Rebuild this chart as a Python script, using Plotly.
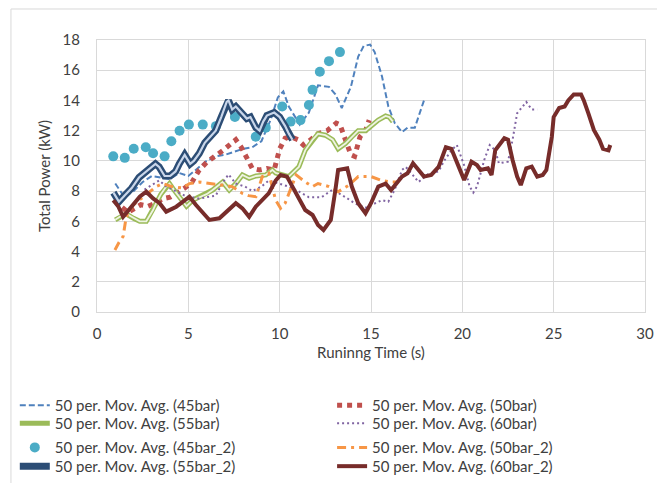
import plotly.graph_objects as go

# 50-point moving averages of total power (kW) vs running time (s)
t_45 = [1.0, 1.5, 2.0, 2.5, 3.0, 3.5, 4.0, 4.5, 5.0, 5.5, 6.0, 6.5, 7.0, 7.5, 8.0, 8.5, 9.0, 9.5,
        9.9, 10.2, 10.5, 11.1, 11.6, 12.1, 12.7, 13.05, 13.4, 13.9, 14.3, 14.6, 14.95, 15.2, 15.6,
        15.95, 16.3, 16.7, 17.0, 17.4, 17.7, 17.9]
p_45 = [8.5, 7.6, 8.0, 8.6, 9.0, 8.9, 8.8, 9.2, 9.0, 9.5, 10.0, 10.3, 10.4, 10.6, 10.8, 10.9, 11.3, 12.7,
        14.2, 14.6, 13.6, 12.4, 13.2, 15.0, 14.9, 14.4, 13.5, 14.9, 16.9, 17.6, 17.7, 17.2, 15.6,
        13.6, 12.5, 11.9, 12.2, 12.2, 13.2, 14.0]

t_50 = [1.0, 1.3, 1.7, 2.0, 2.4, 2.8, 3.2, 3.6, 4.0, 4.4, 4.8, 5.2, 5.6, 6.0, 6.5, 6.9, 7.3, 7.6,
        7.9, 8.2, 8.5, 8.9, 9.3, 9.7, 10.0, 10.3, 10.6, 11.0, 11.3, 11.7, 12.1, 12.6, 13.1, 13.3,
        13.6, 13.9, 14.1, 14.4, 14.7, 14.9]
p_50 = [7.4, 7.0, 6.6, 6.8, 7.1, 7.0, 7.2, 7.5, 7.6, 7.9, 8.2, 8.6, 9.4, 9.9, 10.3, 10.7, 11.1, 11.4,
        10.9, 10.2, 9.5, 9.4, 9.5, 9.4, 10.8, 11.5, 11.6, 11.4, 11.05, 11.4, 11.8, 12.0, 12.5, 12.4,
        11.4, 10.4, 10.3, 11.6, 12.0, 12.7]

t_55 = [1.0, 1.25, 1.6, 2.0, 2.34, 2.7, 3.07, 3.24, 3.5, 3.79, 3.97, 4.2, 4.52, 4.9, 5.24, 5.6, 6.0,
        6.33, 6.88, 7.24, 7.6, 7.96, 8.33, 8.7, 9.24, 9.6, 9.78, 10.5, 10.7, 11.05, 11.4, 11.8, 12.1,
        12.5, 12.9, 13.2, 13.6, 13.95, 14.3, 14.7, 15.0, 15.4, 15.8, 16.0, 16.2]
p_55 = [6.1, 6.3, 6.5, 6.2, 6.0, 6.0, 6.75, 7.2, 7.8, 8.3, 8.5, 8.1, 7.6, 7.0, 7.4, 7.6, 7.8,
        8.07, 8.6, 8.07, 8.5, 9.07, 8.85, 9.0, 9.07, 9.4, 9.2, 8.96, 9.2, 9.6, 10.7, 11.4, 11.8,
        11.7, 11.4, 10.8, 11.15, 11.6, 12.0, 12.0, 12.3, 12.7, 12.97, 12.9, 12.6]

t_60 = [2.6, 3.0, 3.4, 3.8, 4.3, 4.8, 5.2, 5.6, 6.0, 6.5, 6.9, 7.2, 7.6, 8.1, 8.5, 9.0, 9.4, 9.9,
        10.5, 11.0, 11.6, 12.3, 12.9, 13.6, 14.1, 14.7, 15.2, 15.6, 15.95, 16.3, 16.7, 16.9, 17.2,
        17.6, 18.1, 18.7, 19.0, 19.4, 19.7, 20.1, 20.4, 20.6, 20.8, 21.2, 21.5, 21.8, 22.0, 22.5,
        22.75, 23.0, 23.5, 23.8, 24.1]
p_60 = [8.1, 8.4, 8.7, 8.3, 8.0, 7.7, 7.6, 7.5, 7.6, 7.7, 8.6, 9.1, 8.5, 8.3, 8.0, 8.3, 8.7, 8.5,
        8.3, 8.0, 7.6, 7.6, 8.1, 7.6, 7.2, 6.9, 7.2, 7.4, 7.3, 8.1, 9.4, 9.6, 9.2,
        8.6, 9.1, 9.3, 10.0, 10.7, 11.05, 9.7, 8.3, 7.9, 8.3, 10.06, 11.05, 10.7, 9.84, 9.95,
        11.4, 13.15, 13.9, 13.4, 13.4]

t_45_2 = [0.89, 1.52, 2.01, 2.67, 3.07, 3.70, 4.07, 4.52, 5.03, 5.79, 6.51, 7.55, 8.69, 9.24,
          10.14, 10.6, 11.14, 11.6, 11.8, 12.2, 12.7, 13.3]
p_45_2 = [10.3, 10.2, 10.8, 10.9, 10.5, 10.3, 11.3, 12.0, 12.4, 12.4, 12.3, 12.9, 11.6, 12.2,
          13.6, 12.6, 12.7, 13.7, 14.7, 15.9, 16.6, 17.2]

t_50_2 = [0.98, 1.2, 1.43, 1.6, 1.98, 2.6, 3.24, 3.6, 4.1, 4.7, 5.06, 5.6, 6.2, 6.88, 7.4, 7.96,
          8.3, 8.7, 9.05, 9.4, 9.78, 10.05, 10.3, 10.9, 11.4, 11.8, 12.1, 12.7, 13.2, 13.8, 14.3,
          15.0, 15.6, 16.1, 16.5]
p_50_2 = [4.1, 4.6, 5.0, 6.3, 7.08, 7.7, 8.3, 8.5, 8.3, 8.2, 8.5, 8.6, 8.5, 8.4, 8.3, 7.85,
          7.7, 7.63, 8.96, 9.18, 7.4, 6.86, 7.2, 9.07, 8.6, 8.3, 8.5, 8.3, 7.96, 8.4, 8.96,
          8.96, 8.7, 8.6, 8.6]

t_55_2 = [0.9, 1.2, 1.5, 1.9, 2.3, 2.8, 3.2, 3.4, 3.7, 4.0, 4.3, 4.5, 4.8, 5.1, 5.3, 5.6, 5.9,
          6.2, 6.5, 6.8, 7.1, 7.2, 7.4, 7.6, 7.9, 8.2, 8.4, 8.7, 8.9, 9.1, 9.3, 9.7, 10.0, 10.3,
          10.5, 10.7]
p_55_2 = [7.9, 7.3, 7.7, 8.2, 8.9, 9.4, 9.8, 9.6, 9.0, 9.0, 9.3, 9.8, 10.4, 9.8, 10.0, 10.5, 11.2,
          11.6, 12.0, 12.9, 13.9, 14.0, 13.4, 13.6, 13.2, 12.8, 12.9, 12.2, 12.0, 12.6, 13.0, 13.2,
          12.9, 12.3, 11.8, 11.4]

t_60_2 = [0.89, 1.16, 1.43, 1.8, 2.34, 2.7, 3.07, 3.43, 3.79, 4.34, 4.79, 5.06, 5.42, 5.79, 6.15,
          6.7, 7.24, 7.6, 7.96, 8.33, 8.69, 9.05, 9.4, 9.78, 10.05, 10.4, 10.7, 11.05, 11.4, 11.8,
          12.1, 12.4, 12.8, 13.05, 13.2, 13.7, 13.95, 14.3, 14.7, 15.0, 15.4, 15.8, 16.1, 16.7,
          17.0, 17.3, 17.6, 17.9, 18.3, 18.7, 19.1, 19.4, 19.8, 20.1, 20.5, 20.8, 21.0, 21.4, 21.6,
          21.8, 22.3, 22.5, 22.75, 23.0, 23.2, 23.5, 23.8, 24.1, 24.4, 24.6, 24.9, 25.0, 25.3,
          25.6, 25.8, 26.1, 26.5, 26.65, 26.9, 27.2, 27.5, 27.7, 28.0, 28.1]
p_60_2 = [7.4, 7.0, 6.3, 6.86, 7.63, 7.96, 7.52, 7.2, 6.64, 6.97, 7.41, 7.63, 7.08, 6.53, 6.09,
          6.2, 6.75, 7.2, 6.86, 6.3, 6.97, 7.4, 7.85, 8.7, 9.07, 8.96, 8.3, 7.41, 6.75, 6.42,
          5.76, 5.43, 6.09, 8.07, 9.4, 9.51, 8.3, 7.2, 6.53, 7.2, 8.3, 8.5, 8.07, 8.96,
          9.18, 9.84, 9.4, 8.96, 9.07, 9.6, 10.9, 10.8, 9.62, 8.74, 9.95, 9.73, 9.4, 9.51, 9.07,
          10.7, 11.5, 11.4, 10.06, 8.96, 8.4, 9.51, 9.62, 8.96, 9.07, 9.4, 11.6, 12.9, 13.5,
          13.6, 14.0, 14.4, 14.4, 14.0, 13.15, 12.05, 11.4, 10.8, 10.7, 11.05]

x_ticks = [0, 5, 10, 15, 20, 25, 30]
y_ticks = [0, 2, 4, 6, 8, 10, 12, 14, 16, 18]

FONT = "Lato"
GRID = "#D9D9D9"
TEXT = "#404040"

fig = go.Figure()


def name(tag):
    return f"50 per. Mov. Avg. ({tag})"


# one legend box per entry: two columns, four rows
fig.add_trace(go.Scatter(x=t_45, y=p_45, mode="lines", name=name("45bar"), legend="legend",
                         line=dict(color="#4F81BD", width=2, dash="6px,3px")))
fig.add_trace(go.Scatter(x=t_50, y=p_50, mode="lines", name=name("50bar"), legend="legend2",
                         line=dict(color="#C0504D", width=5, dash="5px,5px")))
fig.add_trace(go.Scatter(x=t_55, y=p_55, mode="lines", name=name("55bar"), legend="legend3",
                         legendgroup="g55", line=dict(color="#9BBB59", width=5)))
fig.add_trace(go.Scatter(x=t_55, y=p_55, mode="lines", showlegend=False, legend="legend3",
                         legendgroup="g55", hoverinfo="skip",
                         line=dict(color="#EEF4E2", width=1.8)))
fig.add_trace(go.Scatter(x=t_60, y=p_60, mode="lines", name=name("60bar"), legend="legend4",
                         line=dict(color="#8064A2", width=2, dash="2px,3px")))
fig.add_trace(go.Scatter(x=t_45_2, y=p_45_2, mode="markers", name=name("45bar_2"), legend="legend5",
                         marker=dict(color="#4BACC6", size=10)))
fig.add_trace(go.Scatter(x=t_50_2, y=p_50_2, mode="lines", name=name("50bar_2"), legend="legend6",
                         line=dict(color="#F79646", width=3, dash="9px,5px,3px,5px")))
fig.add_trace(go.Scatter(x=t_55_2, y=p_55_2, mode="lines", name=name("55bar_2"), legend="legend7",
                         legendgroup="g55b", line=dict(color="#2C4D75", width=7)))
fig.add_trace(go.Scatter(x=t_55_2, y=p_55_2, mode="lines", showlegend=False, legend="legend7",
                         legendgroup="g55b", hoverinfo="skip",
                         line=dict(color="#C9D6EA", width=2.2)))
fig.add_trace(go.Scatter(x=t_60_2, y=p_60_2, mode="lines", name=name("60bar_2"), legend="legend8",
                         line=dict(color="#772C2A", width=4)))

axis_font = dict(family=FONT, size=15, color=TEXT)


def legend_box(x, y):
    return dict(orientation="v", x=x, y=y, xanchor="left", yanchor="top",
                font=dict(family=FONT, size=15, color=TEXT),
                bgcolor="rgba(0,0,0,0)", tracegroupgap=0, itemclick=False)


COL1, COL2 = -0.15, 0.429
ROWS = [-0.283, -0.349, -0.438, -0.507]

fig.update_layout(
    width=657, height=483,
    showlegend=True,
    margin=dict(l=97, r=12, t=40, b=171, autoexpand=False),
    paper_bgcolor="white", plot_bgcolor="white",
    font=dict(family=FONT, size=15, color=TEXT),
    xaxis=dict(range=[0, 30], tickvals=x_ticks, showgrid=True, gridcolor=GRID, gridwidth=1,
               zeroline=False, showline=True, mirror=True, linecolor=GRID, linewidth=1,
               tickfont=axis_font, ticklabelstandoff=8,
               title=dict(text="Runinng Time (s)", font=axis_font, standoff=6)),
    yaxis=dict(range=[0, 18], tickvals=y_ticks, showgrid=True, gridcolor=GRID, gridwidth=1,
               zeroline=False, showline=True, mirror=True, linecolor=GRID, linewidth=1,
               tickfont=axis_font, ticklabelstandoff=13,
               title=dict(text="Total Power (kW)", font=axis_font, standoff=8)),
    legend=legend_box(COL1, ROWS[0]),
    legend2=legend_box(COL2, ROWS[0]),
    legend3=legend_box(COL1, ROWS[1]),
    legend4=legend_box(COL2, ROWS[1]),
    legend5=legend_box(COL1, ROWS[2]),
    legend6=legend_box(COL2, ROWS[2]),
    legend7=legend_box(COL1, ROWS[3]),
    legend8=legend_box(COL2, ROWS[3]),
    shapes=[dict(type="rect", xref="paper", yref="paper", x0=-0.157, x1=1.2, y0=-0.75, y1=1.114,
                 line=dict(color=GRID, width=1), fillcolor="rgba(0,0,0,0)", layer="below")],
)

fig.write_html("out.html")
